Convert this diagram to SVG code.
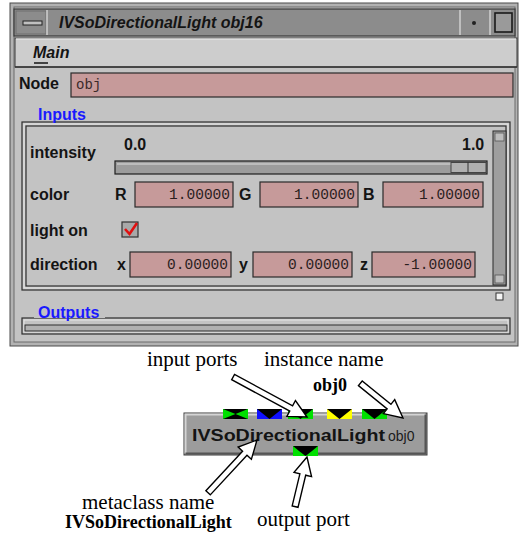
<svg xmlns="http://www.w3.org/2000/svg" width="523" height="533" viewBox="0 0 523 533">
<defs>
<style>
.ui{font-family:"Liberation Sans",Arial,sans-serif;font-weight:bold;font-size:16px;fill:#141414}
.blue{font-family:"Liberation Sans",Arial,sans-serif;font-weight:bold;font-size:16px;fill:#1a1aff}
.num{font-family:"Liberation Mono","DejaVu Sans Mono",monospace;font-size:14.5px;fill:#2a1e1e;text-anchor:end}
.field{fill:#c69a9a;stroke:#2a2a2a;stroke-width:1.2}
.frame{fill:none;stroke:#2e2e2e;stroke-width:1.2}
.frameL{fill:none;stroke:#e8e8e8;stroke-width:1}
.cap{font-family:"Liberation Serif","Times New Roman",serif;font-size:21px;fill:#000}
.capb{font-family:"Liberation Serif","Times New Roman",serif;font-size:18px;font-weight:bold;fill:#000}
.arrow{fill:#fff;stroke:#000;stroke-width:1.4;stroke-linejoin:miter}
.tri{fill:#000}
</style>
</defs>
<rect x="0" y="0" width="523" height="533" fill="#fff"/>

<g id="window">
  <rect x="10" y="3" width="508" height="343" fill="#b2b2b2" stroke="#4a4a4a" stroke-width="1"/>
  <rect x="14" y="7" width="501" height="335" fill="#c3c3c3" stroke="#6a6a6a" stroke-width="1"/>
  <!-- title bar -->
  <rect x="14" y="9" width="501" height="27" fill="#8c8c8c" stroke="#3a3a3a" stroke-width="1.2"/>
  <rect x="16" y="11" width="30" height="23" fill="#8c8c8c" stroke="#6e6e6e"/>
  <rect x="23" y="21" width="19" height="4" fill="#c0c0c0" stroke="#222" stroke-width="1"/>
  <line x1="47" y1="10" x2="47" y2="35" stroke="#d0d0d0" stroke-width="1.5"/>
  <line x1="460" y1="10" x2="460" y2="35" stroke="#d0d0d0" stroke-width="1.5"/>
  <line x1="490" y1="10" x2="490" y2="35" stroke="#d0d0d0" stroke-width="1.5"/>
  <circle cx="474" cy="23" r="2" fill="#222"/>
  <rect x="495" y="13" width="17" height="19" fill="#9a9a9a" stroke="#1a1a1a" stroke-width="1.6"/>
  <text x="59" y="28" class="ui" font-style="italic" fill="#111">IVSoDirectionalLight obj16</text>
  <!-- menu bar -->
  <rect x="15" y="38" width="502" height="29" fill="#cdcdcd" stroke="#3a3a3a" stroke-width="1"/>
  <line x1="16" y1="39" x2="516" y2="39" stroke="#eeeeee"/>
  <line x1="15" y1="67" x2="517" y2="67" stroke="#333" stroke-width="1.5"/>
  <text x="33" y="58" class="ui" font-style="italic" font-size="15">Main</text>
  <line x1="34" y1="63" x2="48" y2="63" stroke="#141414" stroke-width="1.5"/>
  <!-- node row -->
  <text x="19" y="89" class="ui">Node</text>
  <rect x="71" y="73" width="442" height="24" class="field"/>
  <text x="76" y="89" font-family="Liberation Mono,monospace" font-size="14" fill="#3a2a2a">obj</text>
  <!-- inputs group -->
  <rect x="22" y="122" width="488" height="168" class="frame"/>
  <rect x="24" y="124" width="484" height="164" class="frameL"/>
  <rect x="26" y="126" width="480" height="160" class="frame"/>
  <rect x="34" y="108" width="56" height="13" fill="#c3c3c3"/>
  <text x="38" y="120" class="blue">Inputs</text>
  <!-- intensity -->
  <text x="30" y="158" class="ui">intensity</text>
  <text x="124" y="150" class="ui" font-size="15">0.0</text>
  <text x="462" y="150" class="ui" font-size="15">1.0</text>
  <rect x="115" y="161" width="372" height="13" fill="#9c9c9c" stroke="#1e1e1e" stroke-width="1.2"/>
  <line x1="117" y1="164" x2="451" y2="164" stroke="#dcdcdc"/>
  <rect x="451" y="162.5" width="35" height="10" fill="#b0b0b0" stroke="#444"/>
  <line x1="468" y1="162" x2="468" y2="173" stroke="#333"/>
  <!-- color -->
  <text x="30" y="200" class="ui">color</text>
  <text x="115" y="200" class="ui">R</text>
  <rect x="135" y="182" width="98" height="25" class="field"/>
  <text x="230" y="199" class="num">1.00000</text>
  <text x="239" y="200" class="ui">G</text>
  <rect x="260" y="182" width="98" height="25" class="field"/>
  <text x="355" y="199" class="num">1.00000</text>
  <text x="363" y="200" class="ui">B</text>
  <rect x="383" y="182" width="100" height="25" class="field"/>
  <text x="480" y="199" class="num">1.00000</text>
  <!-- light on -->
  <text x="30" y="236" class="ui">light on</text>
  <rect x="122" y="222" width="16" height="15" fill="#a8a8a8" stroke="#333" stroke-width="1.2"/>
  <path d="M125 229 L129.5 234 L137 223" fill="none" stroke="#e01010" stroke-width="2.6"/>
  <!-- direction -->
  <text x="30" y="270" class="ui">direction</text>
  <text x="117" y="270" class="ui">x</text>
  <rect x="130" y="252" width="101" height="25" class="field"/>
  <text x="228" y="269" class="num">0.00000</text>
  <text x="239" y="270" class="ui">y</text>
  <rect x="253" y="252" width="99" height="25" class="field"/>
  <text x="349" y="269" class="num">0.00000</text>
  <text x="360" y="270" class="ui">z</text>
  <rect x="372" y="252" width="103" height="25" class="field"/>
  <text x="472" y="269" class="num">-1.00000</text>
  <!-- scrollbar -->
  <rect x="493" y="131" width="13" height="154" fill="#9e9e9e" stroke="#2a2a2a" stroke-width="1"/>
  <rect x="495" y="133" width="9" height="8" fill="#bdbdbd" stroke="#555" stroke-width="0.8"/>
  <rect x="495" y="275" width="9" height="8" fill="#bdbdbd" stroke="#555" stroke-width="0.8"/>
  <rect x="496" y="293" width="7" height="7" fill="#f4f4f4" stroke="#333" stroke-width="1"/>
  <!-- outputs group -->
  <rect x="22" y="318" width="488" height="16" class="frame"/>
  <rect x="24" y="320" width="484" height="12" class="frameL"/>
  <rect x="25" y="325" width="482" height="6" fill="#b0b0b0" stroke="#2e2e2e" stroke-width="1"/>
  <rect x="34" y="306" width="71" height="12" fill="#c3c3c3"/>
  <text x="38" y="318" class="blue">Outputs</text>
</g>

<g id="module">
  <rect x="184" y="413" width="243" height="42" fill="#9c9c9c" stroke="#3a3a3a" stroke-width="1"/>
  <path d="M185.5 453.5 V414.5 H425.5" fill="none" stroke="#d4d4d4" stroke-width="2"/>
  <path d="M185.5 453.5 H425.5 V414.5" fill="none" stroke="#555" stroke-width="2"/>
  <text x="192" y="441" class="ui" font-size="21" textLength="193" lengthAdjust="spacingAndGlyphs" fill="#111">IVSoDirectionalLight</text>
  <text x="388" y="441" font-family="Liberation Sans,Arial,sans-serif" font-size="14" fill="#1a1a1a">obj0</text>
  <!-- input ports -->
  <g id="port-in-1">
    <rect x="223" y="409" width="25" height="10" fill="#00e000"/>
    <path class="tri" d="M223 409 H248 L235.5 414 Z M223 419 H248 L235.5 414 Z"/>
  </g>
  <g id="port-in-2">
    <rect x="257" y="409" width="25" height="10" fill="#1010ff"/>
    <path class="tri" d="M257 409 H282 L269.5 419 Z"/>
  </g>
  <g id="port-in-3">
    <rect x="288" y="409" width="25" height="10" fill="#00e000"/>
    <path class="tri" d="M288 409 H313 L300.5 419 Z"/>
  </g>
  <g id="port-in-4">
    <rect x="327" y="409" width="25" height="10" fill="#ffff00"/>
    <path class="tri" d="M327 409 H352 L339.5 419 Z"/>
  </g>
  <g id="port-in-5">
    <rect x="362" y="409" width="25" height="10" fill="#00e000"/>
    <path class="tri" d="M362 409 H387 L374.5 419 Z"/>
  </g>
  <g id="port-out">
    <rect x="293" y="446" width="25" height="10" fill="#00e000"/>
    <path class="tri" d="M293 446 H318 L312 451 L305.5 456 L299 451 Z"/>
  </g>
</g>

<g id="label-input-ports"><text x="147" y="366" class="cap">input ports</text></g>
<g id="label-instance-name">
  <text x="264" y="366" class="cap">instance name</text>
  <text x="313" y="391" class="capb">obj0</text>
</g>
<g id="label-metaclass">
  <text x="82" y="509" class="cap">metaclass name</text>
  <text x="65" y="528" class="capb">IVSoDirectionalLight</text>
</g>
<g id="label-output-port"><text x="257" y="526" class="cap">output port</text></g>

<g id="connectors">
  <path class="arrow" transform="translate(307,417) rotate(28.4)" d="M0 0 L-18 -9 L-18 -3 L-84 -3 L-84 3 L-18 3 L-18 9 Z"/>
  <path class="arrow" transform="translate(403,418) rotate(39.1)" d="M0 0 L-18 -9 L-18 -3 L-55 -3 L-55 3 L-18 3 L-18 9 Z"/>
  <path class="arrow" transform="translate(257,440) rotate(-47.2)" d="M0 0 L-18 -9 L-18 -3 L-72 -3 L-72 3 L-18 3 L-18 9 Z"/>
  <path class="arrow" transform="translate(307,457) rotate(-76.5)" d="M0 0 L-18 -9 L-18 -3 L-51 -3 L-51 3 L-18 3 L-18 9 Z"/>
</g>
</svg>
